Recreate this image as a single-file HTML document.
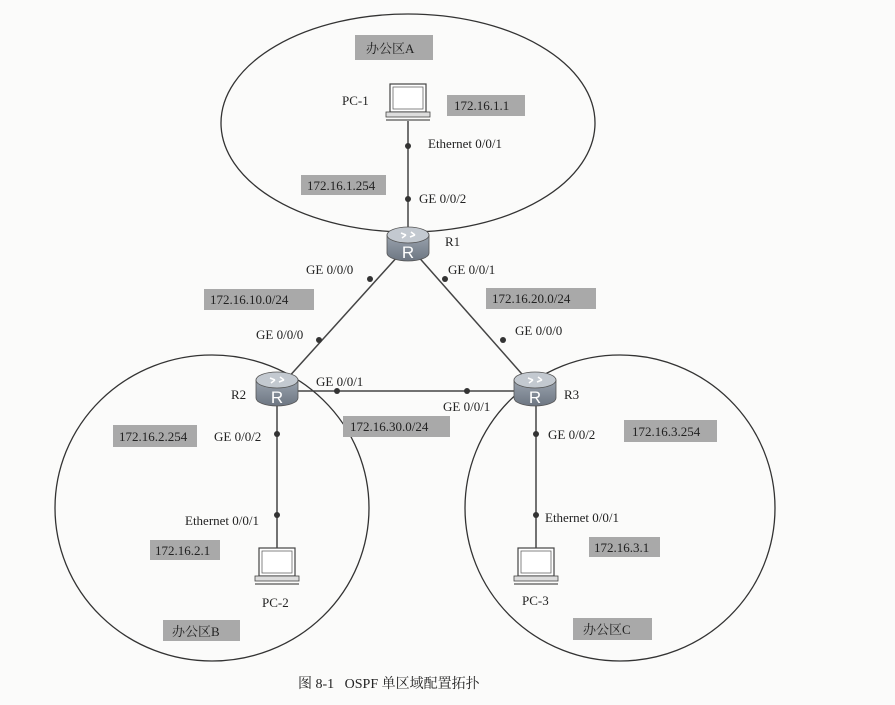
<!DOCTYPE html>
<html><head><meta charset="utf-8"><style>
html,body{margin:0;padding:0;background:#fbfbfa;}
svg{display:block}
text{font-family:"Liberation Serif","Noto Serif CJK SC",serif;fill:#222;font-size:13px}
.b{fill:#a9a9a9}
</style></head><body>
<svg width="895" height="705" viewBox="0 0 895 705" xmlns="http://www.w3.org/2000/svg">
<defs>
<linearGradient id="rg" x1="0" y1="0" x2="0" y2="1"><stop offset="0" stop-color="#9aa3ae"/><stop offset="1" stop-color="#6d7682"/></linearGradient>
<g id="router">
<path d="M-21,-8 L-21,10 A21,8 0 0 0 21,10 L21,-8 Z" fill="url(#rg)" stroke="#555" stroke-width="0.8"/>
<ellipse cx="0" cy="-8" rx="21" ry="8" fill="#c3c9d0" stroke="#555" stroke-width="0.8"/>
<path d="M-7,-10 l5,2 M2,-6 l5,-2 M-6,-5 l4,-3 M3,-11 l4,3" stroke="#fff" stroke-width="1.5"/>
<text x="0" y="15" text-anchor="middle" style="font-family:'Liberation Sans',sans-serif;font-size:17px;fill:#fff">R</text>
</g>
<g id="pc">
<rect x="-18" y="0" width="36" height="28" fill="#fff" stroke="#444" stroke-width="1.2"/>
<rect x="-15" y="3" width="30" height="22" fill="#fff" stroke="#666" stroke-width="0.8"/>
<rect x="-22" y="28" width="44" height="5" fill="#ddd" stroke="#444" stroke-width="0.8"/>
<line x1="-22" y1="36" x2="22" y2="36" stroke="#555" stroke-width="1.2"/>
</g>
</defs>
<g fill="none" stroke="#333" stroke-width="1.3">
<ellipse cx="408" cy="123" rx="187" ry="109"/>
<ellipse cx="212" cy="508" rx="157" ry="153"/>
<ellipse cx="620" cy="508" rx="155" ry="153"/>
</g>
<g stroke="#444" stroke-width="1.5">
<line x1="408" y1="121" x2="408" y2="230"/>
<line x1="408" y1="245" x2="277" y2="390"/>
<line x1="408" y1="245" x2="536" y2="390"/>
<line x1="277" y1="391" x2="536" y2="391"/>
<line x1="277" y1="397" x2="277" y2="550"/>
<line x1="536" y1="397" x2="536" y2="550"/>
</g>
<g fill="#333">
<circle cx="408" cy="146" r="3"/><circle cx="408" cy="199" r="3"/>
<circle cx="370" cy="279" r="3"/><circle cx="445" cy="279" r="3"/>
<circle cx="319" cy="340" r="3"/><circle cx="503" cy="340" r="3"/>
<circle cx="337" cy="391" r="3"/><circle cx="467" cy="391" r="3"/>
<circle cx="277" cy="434" r="3"/><circle cx="277" cy="515" r="3"/>
<circle cx="536" cy="434" r="3"/><circle cx="536" cy="515" r="3"/>
</g>
<use href="#router" x="408" y="243"/>
<use href="#router" x="277" y="388"/>
<use href="#router" x="535" y="388"/>
<use href="#pc" x="408" y="84"/>
<use href="#pc" x="277" y="548"/>
<use href="#pc" x="536" y="548"/>
<rect class="b" x="355" y="35" width="78" height="25"/><text x="366" y="53">办公区A</text>
<rect class="b" x="447" y="95" width="78" height="21"/><text x="454" y="110">172.16.1.1</text>
<rect class="b" x="301" y="175" width="85" height="20"/><text x="307" y="190">172.16.1.254</text>
<rect class="b" x="204" y="289" width="110" height="21"/><text x="210" y="304">172.16.10.0/24</text>
<rect class="b" x="486" y="288" width="110" height="21"/><text x="492" y="303">172.16.20.0/24</text>
<rect class="b" x="113" y="425" width="84" height="22"/><text x="119" y="441">172.16.2.254</text>
<rect class="b" x="343" y="416" width="107" height="21"/><text x="350" y="431">172.16.30.0/24</text>
<rect class="b" x="624" y="420" width="93" height="22"/><text x="632" y="436">172.16.3.254</text>
<rect class="b" x="150" y="540" width="70" height="20"/><text x="155" y="555">172.16.2.1</text>
<rect class="b" x="589" y="537" width="71" height="20"/><text x="594" y="552">172.16.3.1</text>
<rect class="b" x="163" y="620" width="77" height="21"/><text x="172" y="636">办公区B</text>
<rect class="b" x="573" y="618" width="79" height="22"/><text x="583" y="634">办公区C</text>
<text x="342" y="105">PC-1</text>
<text x="428" y="148">Ethernet 0/0/1</text>
<text x="419" y="203">GE 0/0/2</text>
<text x="445" y="246">R1</text>
<text x="306" y="274">GE 0/0/0</text>
<text x="448" y="274">GE 0/0/1</text>
<text x="256" y="339">GE 0/0/0</text>
<text x="515" y="335">GE 0/0/0</text>
<text x="231" y="399">R2</text>
<text x="316" y="386">GE 0/0/1</text>
<text x="443" y="411">GE 0/0/1</text>
<text x="564" y="399">R3</text>
<text x="214" y="441">GE 0/0/2</text>
<text x="548" y="439">GE 0/0/2</text>
<text x="185" y="525">Ethernet 0/0/1</text>
<text x="545" y="522">Ethernet 0/0/1</text>
<text x="262" y="607">PC-2</text>
<text x="522" y="605">PC-3</text>
<text x="298" y="688" xml:space="preserve" style="font-size:14px;white-space:pre">图 8-1   OSPF 单区域配置拓扑</text>
</svg>
</body></html>
